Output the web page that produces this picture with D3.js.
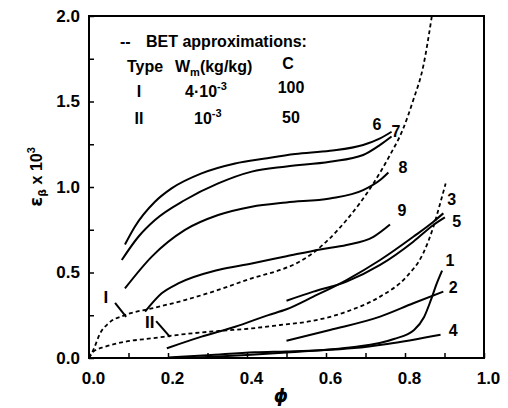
<!DOCTYPE html>
<html>
<head>
<meta charset="utf-8">
<script src="https://cdn.jsdelivr.net/npm/d3@7"></script>
<style>
  body { margin: 0; background: #fff; }
  svg { display: block; font-family: "Liberation Sans", Arial, Helvetica, sans-serif; }
</style>
</head>
<body>
<div class="chart"></div>
<script>
// measured curves, [phi, eps*1e3]
var curve1 = [[0.25,0.0],[0.4,0.018],[0.5,0.032],[0.6,0.048],[0.671,0.064],[0.772,0.111],[0.823,0.164],[0.848,0.238],[0.865,0.335],[0.880,0.433],[0.894,0.511]]
var curve2 = [[0.5,0.101],[0.61,0.164],[0.737,0.242],[0.821,0.320],[0.897,0.388]]
var curve3 = [[0.197,0.057],[0.285,0.125],[0.370,0.183],[0.454,0.251],[0.5,0.285],[0.568,0.359],[0.652,0.456],[0.737,0.573],[0.821,0.709],[0.872,0.797],[0.897,0.846]]
var curve4 = [[0.2,0.003],[0.3,0.016],[0.419,0.033],[0.5,0.038],[0.587,0.045],[0.671,0.058],[0.755,0.082],[0.89,0.136]]
var curve5 = [[0.5,0.335],[0.568,0.388],[0.652,0.447],[0.737,0.544],[0.821,0.680],[0.872,0.778],[0.901,0.822]]
var curve6 = [[0.091,0.664],[0.116,0.768],[0.167,0.914],[0.209,0.992],[0.285,1.080],[0.370,1.138],[0.446,1.167],[0.522,1.193],[0.61,1.212],[0.694,1.246],[0.737,1.284],[0.766,1.323]]
var curve7 = [[0.083,0.573],[0.125,0.709],[0.167,0.807],[0.243,0.924],[0.327,1.021],[0.412,1.090],[0.5,1.12],[0.61,1.148],[0.694,1.187],[0.737,1.246],[0.766,1.295]]
var curve8 = [[0.091,0.407],[0.159,0.593],[0.243,0.749],[0.327,0.836],[0.412,0.885],[0.5,0.91],[0.61,0.933],[0.694,0.982],[0.737,1.041],[0.758,1.085]]
var curve9 = [[0.142,0.271],[0.184,0.378],[0.226,0.436],[0.327,0.515],[0.412,0.553],[0.5,0.595],[0.585,0.635],[0.652,0.661],[0.72,0.709],[0.762,0.781]]

var betI = [[0,0],[0.011,0.047],[0.028,0.144],[0.049,0.202],[0.091,0.251],[0.159,0.290],[0.243,0.339],[0.327,0.398],[0.412,0.466],[0.484,0.515],[0.522,0.55],[0.568,0.616],[0.652,0.807],[0.720,1.021],[0.762,1.187],[0.794,1.333],[0.821,1.509],[0.846,1.704],[0.868,2.0]]
var betII = [[0,0],[0.011,0.037],[0.041,0.066],[0.091,0.095],[0.159,0.115],[0.243,0.140],[0.327,0.158],[0.412,0.173],[0.484,0.193],[0.568,0.218],[0.652,0.271],[0.737,0.359],[0.804,0.476],[0.846,0.612],[0.872,0.768],[0.889,0.904],[0.903,1.021]]

var curveNames = ["1","2","3","4","5","6","7","8","9"]
var curveLabelAt = [[0.914,0.538],[0.922,0.380],[0.918,0.895],[0.922,0.129],[0.931,0.768],[0.729,1.333],[0.777,1.292],[0.795,1.082],[0.792,0.830]]

var xTicks = [0,0.1,0.2,0.3,0.4,0.5,0.6,0.7,0.8,0.9,1.0]
var yTicks = [0,0.25,0.5,0.75,1.0,1.25,1.5,1.75,2.0]

var legendTypes = ["I","II"]
var legendWm = ["4·10", "10"]
var legendC = ["100","50"]

document.addEventListener("DOMContentLoaded", draw)
function draw(){
  var width = 508, height = 408

  var svg = d3.select(".chart").append("svg")
    .attr("width", width)
    .attr("height", height)

  var x = d3.scaleLinear().domain([0,1]).range([89,484]),
      y = d3.scaleLinear().domain([0,2]).range([358,16])

  var line = d3.line()
    .x(function(d){ return x(d[0]) })
    .y(function(d){ return y(d[1]) })
    .curve(d3.curveMonotoneX)

  // axes, ticks pointing inward
  var xAxis = svg.append("g")
    .attr("transform", "translate(0,358)")
    .call(d3.axisBottom(x).tickValues(xTicks).tickSize(-5).tickPadding(14)
      .tickFormat(function(d,i){ return i % 2 ? "" : d3.format(".1f")(d) }))
  var yAxis = svg.append("g")
    .attr("transform", "translate(89,0)")
    .call(d3.axisLeft(y).tickValues(yTicks).tickSize(-5).tickPadding(9)
      .tickFormat(function(d,i){ return i % 2 ? "" : d3.format(".1f")(d) }))

  svg.selectAll(".domain").remove()
  svg.selectAll(".tick line").attr("stroke", "#000").attr("stroke-width", 1.5)
  svg.selectAll(".tick text")
    .attr("fill", "#000")
    .attr("font-size", 17)
    .attr("font-weight", "bold")
    .attr("font-family", "Liberation Sans, Arial, sans-serif")
  xAxis.selectAll(".tick text").attr("dx", 4)

  svg.append("rect")
    .attr("x", x(0)).attr("y", y(2))
    .attr("width", x(1) - x(0)).attr("height", y(0) - y(2))
    .attr("fill", "none").attr("stroke", "#000").attr("stroke-width", 2)

  // measured curves
  var curves = [curve1, curve2, curve3, curve4, curve5, curve6, curve7, curve8, curve9]
  svg.append("g").selectAll("path")
    .data(curves)
    .enter()
    .append("path")
    .attr("d", line)
    .attr("fill", "none")
    .attr("stroke", "#000")
    .attr("stroke-width", 2)

  svg.append("g").selectAll("text")
    .data(curveNames)
    .enter()
    .append("text")
    .attr("x", function(d,i){ return x(curveLabelAt[i][0]) })
    .attr("y", function(d,i){ return y(curveLabelAt[i][1]) })
    .attr("text-anchor", "middle")
    .attr("font-size", 16)
    .attr("font-weight", "bold")
    .text(function(d){ return d })

  // BET approximations
  svg.append("g").selectAll("path")
    .data([betI, betII])
    .enter()
    .append("path")
    .attr("d", line)
    .attr("fill", "none")
    .attr("stroke", "#000")
    .attr("stroke-width", 1.8)
    .attr("stroke-dasharray", "4,3")

  // I / II markers with leaders
  var marks = svg.append("g").attr("font-weight", "bold")
  marks.append("text").attr("x", x(0.043)).attr("y", y(0.322))
    .attr("text-anchor", "middle").attr("font-size", 17).text("I")
  marks.append("line")
    .attr("x1", x(0.066)).attr("y1", y(0.322)).attr("x2", x(0.094)).attr("y2", y(0.240))
    .attr("stroke", "#000").attr("stroke-width", 2)
  marks.append("text").attr("x", x(0.154)).attr("y", y(0.175))
    .attr("text-anchor", "middle").attr("font-size", 17).text("II")
  marks.append("line")
    .attr("x1", x(0.170)).attr("y1", y(0.216)).attr("x2", x(0.205)).attr("y2", y(0.123))
    .attr("stroke", "#000").attr("stroke-width", 2)

  // legend block
  var leg = svg.append("g").attr("font-size", 16).attr("font-weight", "bold")
  leg.append("text").attr("x", 120).attr("y", 47).text("--")
  leg.append("text").attr("x", 146).attr("y", 47).text("BET approximations:")
  leg.append("text").attr("x", 127).attr("y", 72).text("Type")
  var wm = leg.append("text").attr("x", 175).attr("y", 72)
  wm.append("tspan").text("W")
  wm.append("tspan").attr("dy", 4).attr("font-size", 11).text("m")
  wm.append("tspan").attr("dy", -4).text("(kg/kg)")
  leg.append("text").attr("x", 288).attr("y", 69).attr("text-anchor", "middle").text("C")

  var rowY = [97, 124], cY = [93, 123], wmX = [185, 194]
  legendTypes.forEach(function(t, i){
    leg.append("text").attr("x", 139).attr("y", rowY[i]).attr("text-anchor", "middle").text(t)
    var w = leg.append("text").attr("x", wmX[i]).attr("y", rowY[i])
    w.append("tspan").text(legendWm[i])
    w.append("tspan").attr("dy", -7).attr("font-size", 11).text("-3")
    leg.append("text").attr("x", 291).attr("y", cY[i]).attr("text-anchor", "middle").text(legendC[i])
  })

  // axis titles
  var yt = svg.append("text")
    .attr("transform", "translate(42,177) rotate(-90)")
    .attr("text-anchor", "middle")
    .attr("font-size", 16)
    .attr("font-weight", "bold")
  yt.append("tspan").attr("font-family", "DejaVu Sans").attr("font-size", 18).text("ε")
  yt.append("tspan").attr("dy", 4).attr("font-size", 11).attr("font-family", "DejaVu Sans").text("β")
  yt.append("tspan").attr("dy", -4).text(" x 10")
  yt.append("tspan").attr("dy", -7).attr("font-size", 11).text("3")

  svg.append("text")
    .attr("x", 281).attr("y", 402)
    .attr("text-anchor", "middle")
    .attr("font-size", 18)
    .attr("font-style", "italic")
    .attr("font-weight", "bold")
    .attr("font-family", "DejaVu Sans")
    .text("ϕ")
}
</script>
</body>
</html>
